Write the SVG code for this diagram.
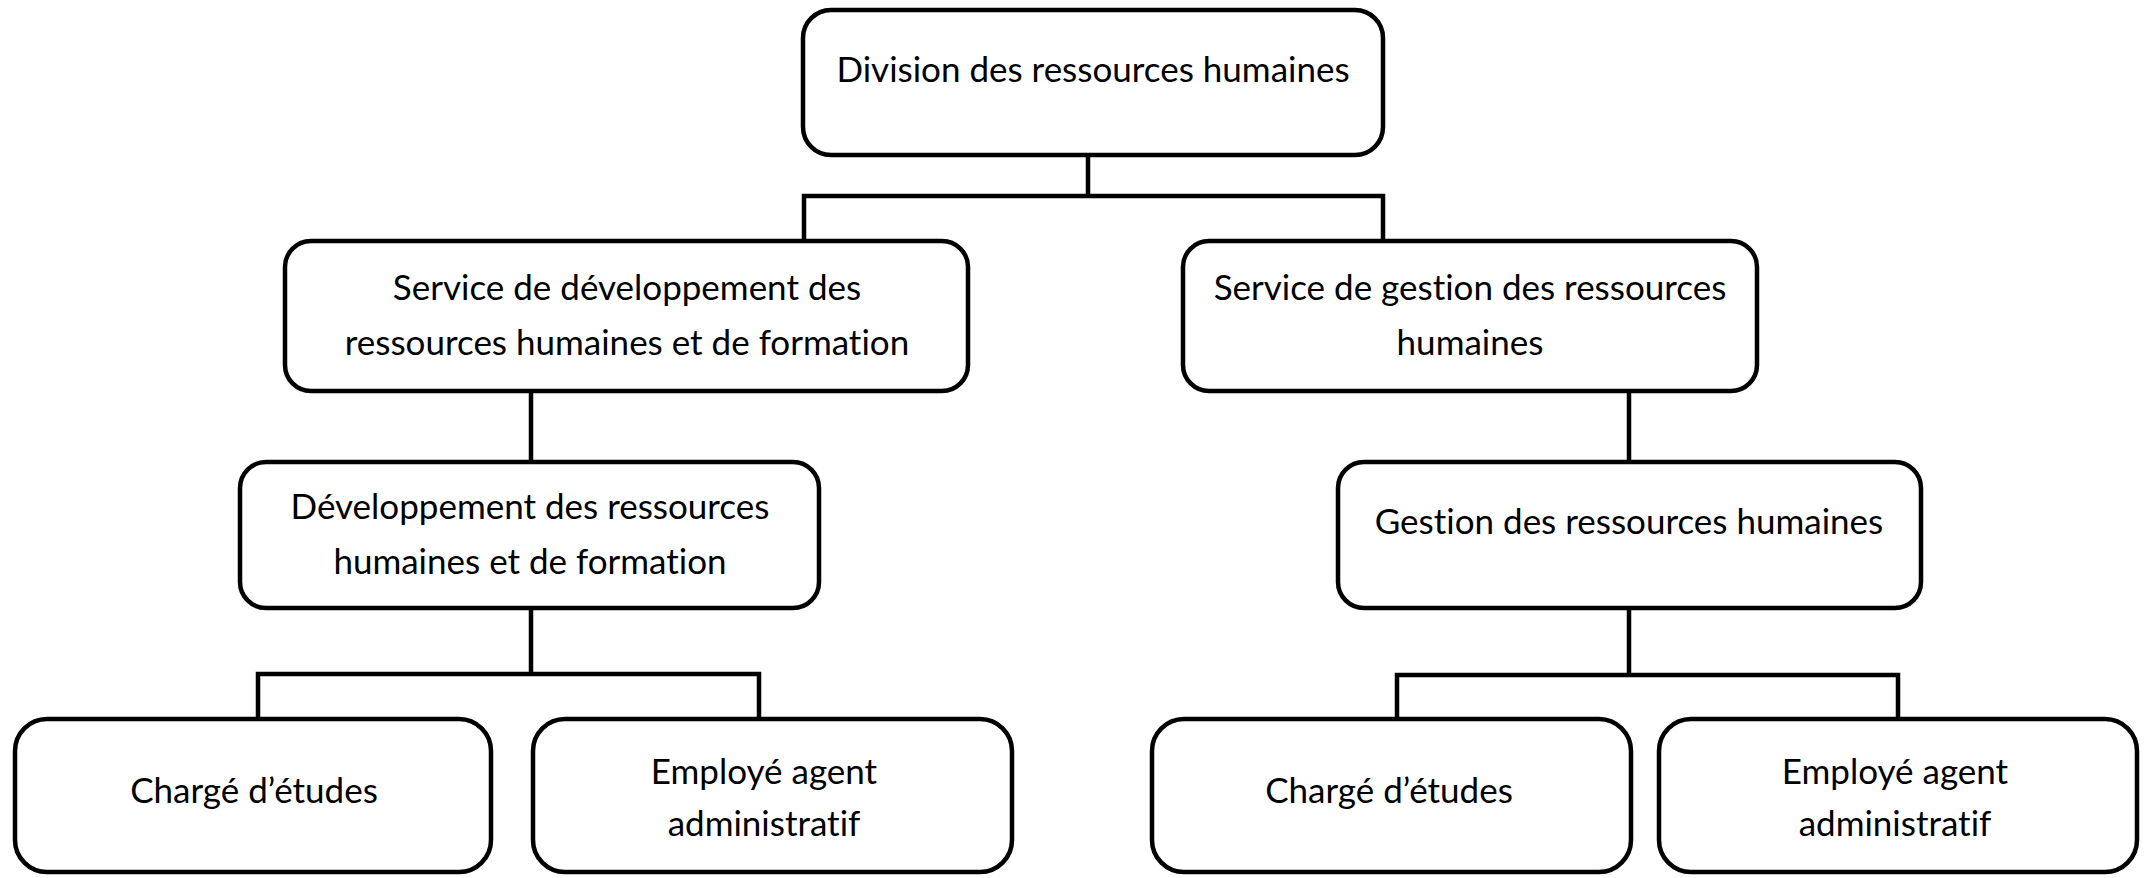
<svg xmlns="http://www.w3.org/2000/svg" width="2152" height="878" viewBox="0 0 2152 878">
<style>
.box{fill:#fff;stroke:#000;stroke-width:4.5}
.t{font-family:Lato,"Open Sans","Liberation Sans",sans-serif;font-size:35px;fill:#000;text-anchor:middle;font-variant-ligatures:none;font-feature-settings:"liga" 0,"clig" 0,"dlig" 0}
.c{fill:none;stroke:#000;stroke-width:4.5;stroke-linecap:square;stroke-linejoin:miter}
</style>
<rect width="2152" height="878" fill="#fff"/>
<g id="connectors">
<path class="c" d="M1088 155 V196 M804 196 H1383 M804 196 V241 M1383 196 V241"/>
<path class="c" d="M531 391 V462 M1629 391 V462"/>
<path class="c" d="M531 608 V674 M258 674 H759 M258 674 V719 M759 674 V719"/>
<path class="c" d="M1629 608 V675 M1397 675 H1898 M1397 675 V719 M1898 675 V719"/>
</g>
<g id="division">
<rect class="box" x="803" y="10" width="580" height="145" rx="28"/>
<text class="t" x="1093" y="82">Division des ressources humaines</text>
</g>
<g id="service-dev">
<rect class="box" x="285" y="241" width="683" height="150" rx="26"/>
<text class="t" x="627" y="300">Service de développement des</text>
<text class="t" x="627" y="355">ressources humaines et de formation</text>
</g>
<g id="service-gestion">
<rect class="box" x="1183" y="241" width="574" height="150" rx="26"/>
<text class="t" x="1470" y="300">Service de gestion des ressources</text>
<text class="t" x="1470" y="355">humaines</text>
</g>
<g id="dev">
<rect class="box" x="240" y="462" width="579" height="146" rx="26"/>
<text class="t" x="530" y="519">Développement des ressources</text>
<text class="t" x="530" y="574">humaines et de formation</text>
</g>
<g id="gestion">
<rect class="box" x="1338" y="462" width="583" height="146" rx="26"/>
<text class="t" x="1629" y="534">Gestion des ressources humaines</text>
</g>
<g id="charge-left">
<rect class="box" x="15" y="719" width="476" height="153" rx="32"/>
<text class="t" x="254" y="803">Chargé d’études</text>
</g>
<g id="employe-left">
<rect class="box" x="533" y="719" width="479" height="153" rx="32"/>
<text class="t" x="764" y="784">Employé agent</text>
<text class="t" x="764" y="836">administratif</text>
</g>
<g id="charge-right">
<rect class="box" x="1152" y="719" width="479" height="153" rx="32"/>
<text class="t" x="1389" y="803">Chargé d’études</text>
</g>
<g id="employe-right">
<rect class="box" x="1659" y="719" width="478" height="153" rx="32"/>
<text class="t" x="1895" y="784">Employé agent</text>
<text class="t" x="1895" y="836">administratif</text>
</g>
</svg>
